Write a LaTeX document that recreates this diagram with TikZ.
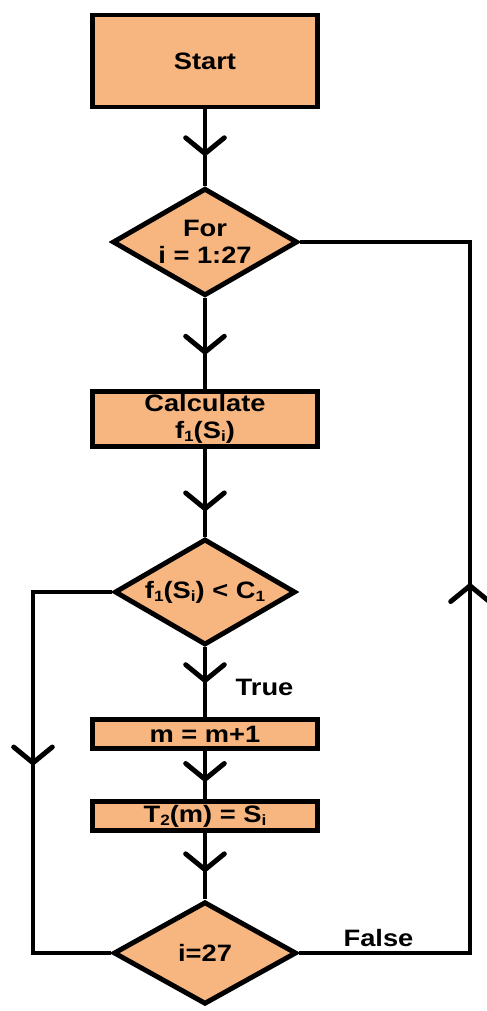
\documentclass[tikz,border=0pt]{standalone}
\usepackage{fontspec}
\setmainfont{Liberation Sans}[FakeStretch=1.15]
\usepackage{tikz}
\usetikzlibrary{arrows.meta,shapes.geometric,positioning,decorations.markings}
\definecolor{boxfill}{RGB}{247,182,128}
% small index sitting near the baseline
\newcommand{\lowidx}[1]{\raisebox{-0.25ex}{\fontsize{8.5}{9}\selectfont #1}}
\tikzset{
    %Define style for process boxes
    procbox/.style={
           rectangle,
           draw=black, line width=2.8pt,
           fill=boxfill,
           minimum width=4.5cm,
           inner sep=1pt,
           font=\fontsize{13.5}{15.5}\selectfont\bfseries,
           align=center},
    %Define style for decision boxes
    decbox/.style={
           diamond, aspect=1.7,
           draw=black, line width=2.8pt,
           fill=boxfill,
           inner sep=0pt,
           font=\fontsize{13.5}{15.5}\selectfont\bfseries,
           align=center},
    %Define flow line style
    flow/.style={
           line width=2.8pt},
    %Open arrow half way along a line
    midarrow/.style={
           postaction={decorate},
           decoration={markings,
               mark=at position #1 with {\arrow{Straight Barb[length=9pt,width=22pt,round]}}}},
    lbl/.style={
           font=\fontsize{13.5}{15.5}\selectfont\bfseries,
           inner sep=1pt}
}

\begin{document}
\begin{tikzpicture}[node distance=1cm, on grid]
\useasboundingbox (0,0) rectangle (9.72,-20.22);
 %nodes
\node[procbox, minimum height=1.84cm] (start) at (4.1,-1.22) {Start};
\node[decbox, minimum width=3.7cm, minimum height=2.15cm, below=3.62cm of start] (for) {For\\i = 1:27};
\node[procbox, minimum height=1.1cm, below=3.54cm of for] (calc) {Calculate\\f\lowidx{1}(S\lowidx{i})};
\node[decbox, minimum width=3.62cm, minimum height=2.12cm, below=3.46cm of calc] (cond) {f\lowidx{1}(S\lowidx{i}) \textless{} C\lowidx{1}};
\node[procbox, minimum height=0.58cm, below=2.84cm of cond] (incm) {m = m+1};
\node[procbox, minimum height=0.58cm, below=1.64cm of incm] (store) {T\lowidx{2}(m) = S\lowidx{i}};
\node[decbox, minimum width=3.66cm, minimum height=2.05cm, below=2.74cm of store] (last) {i=27};
\coordinate (rightx) at (9.4,0);
\coordinate (leftx) at (0.66,0);
 %main flow
\draw[flow, midarrow=0.61] (start) -- (for);
\draw[flow, midarrow=0.62] (for) -- (calc);
\draw[flow, midarrow=0.71] (calc) -- (cond);
\draw[flow, midarrow=0.51] (cond) -- node[lbl, anchor=west, pos=0.58, xshift=0.53cm] {True} (incm);
\draw[flow, midarrow=0.64] (incm) -- (store);
\draw[flow, midarrow=0.59] (store) -- (last);
 %loops
\draw[flow] (cond.west) -- (cond.west -| leftx) -- (last.west -| leftx) -- (last.west);
\path[flow, midarrow=0.48] (cond.west -| leftx) -- (last.west -| leftx);
\draw[flow] (last.east) -- node[lbl, above, pos=0.465, yshift=1pt] {False} (last.east -| rightx) -- (for.east -| rightx) -- (for.east);
\path[flow, midarrow=0.52] (last.east -| rightx) -- (for.east -| rightx);
\end{tikzpicture}
\end{document}
